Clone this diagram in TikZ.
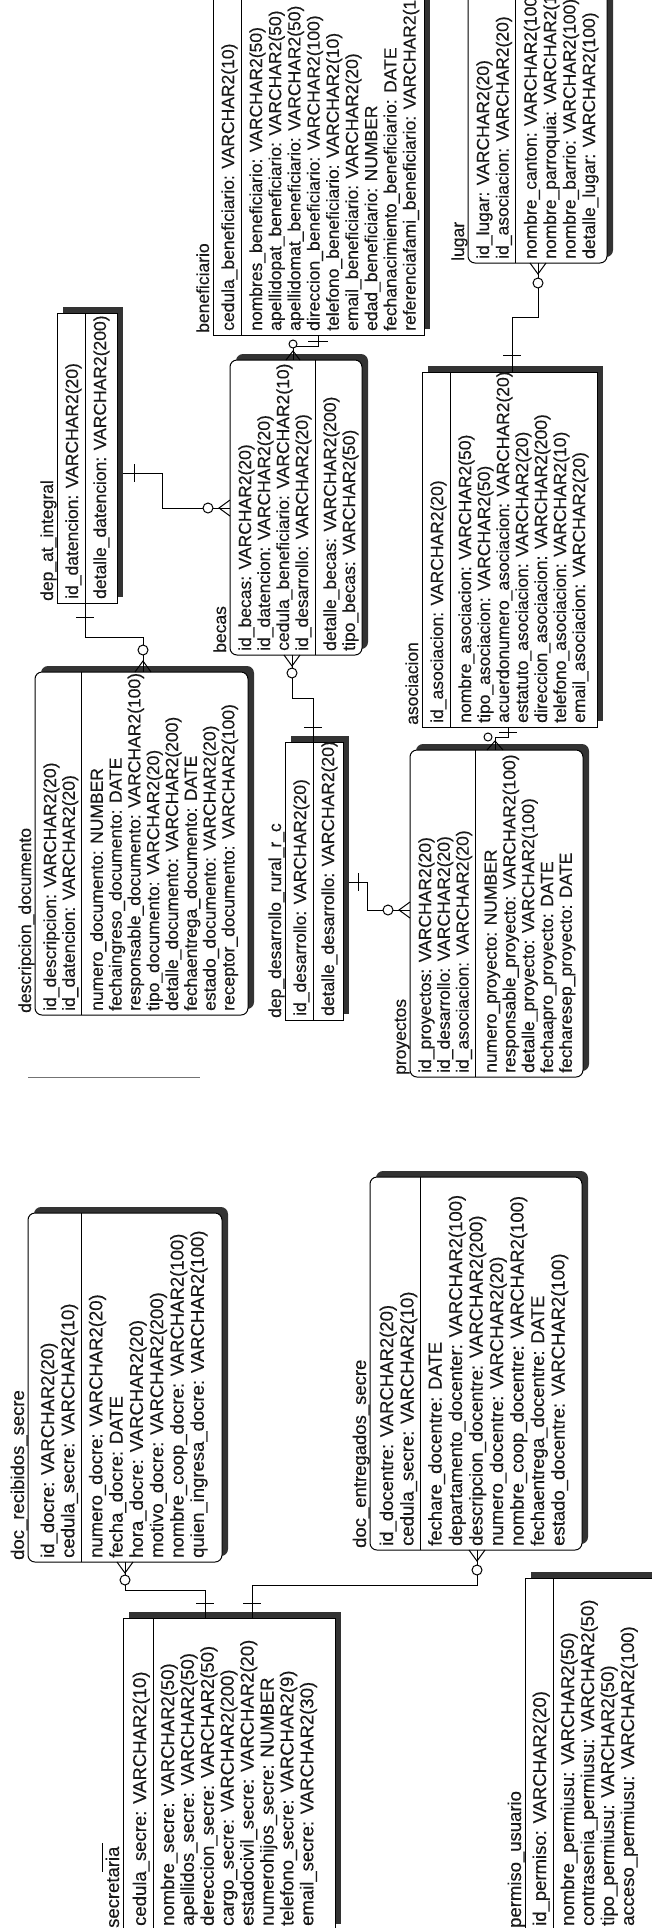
\documentclass[tikz,border=0pt]{standalone}
\usepackage{fontspec}
\setmainfont{Liberation Sans}[FakeBold=0.3]
\newcommand\eFS{17.5}
\newcommand\entfont{\fontsize{\eFS}{19}\selectfont}
\tikzset{
  boxl/.style={draw=black, line width=1pt},
  shadowc/.style={fill=black!80},
  conn/.style={draw=black, line width=1pt},
  txt/.style={anchor=base west, inner sep=0pt, font=\entfont, text=black!90},
  ttl/.style={anchor=base west, inner sep=0pt, font=\entfont, text=black!90},
  rnd/.style={rounded corners=7pt},
  sq/.style={sharp corners},
}
\newcommand\eS{19}\newcommand\eF{21}\newcommand\eN{1}
% #1 id, #2 X, #3 Ybot, #4 W, #5 H, #6 corner style, #7 title, #8 PK lines, #9 attribute lines
\newcommand\entity[9]{%
  \pgfmathsetmacro\eSep{\eF+(\eN-1)*\eS+7}%
  \pgfmathsetmacro\eA{\eSep+21}%
  \begin{scope}[shift={(#2,-#3)}, rotate=90, transform shape]
    \fill[shadowc, #6] (6,-6) rectangle ++(#4,-#5);
    \draw[boxl, fill=white, #6] (0,0) rectangle (#4,-#5);
    \draw[boxl] (0,-\eSep) -- (#4,-\eSep);
    \node[ttl] (#1) at (2,4) {#7};
    \foreach \t [count=\i from 0] in {#8} {\node[txt] (#1-k\i) at (4,{-(\eF+\i*\eS)}) {\t};}
    \foreach \t [count=\i from 0] in {#9} {\node[txt] (#1-a\i) at (4,{-(\eA+\i*\eS)}) {\t};}
  \end{scope}}
\begin{document}
\begin{tikzpicture}[x=1pt,y=1pt]
\useasboundingbox (0,0) rectangle (652,-1928);
\clip (0,0) rectangle (652,-1928);
\fill[white] (0,0) rectangle (652,-1928);

% ---------------- entities ----------------
\renewcommand\eS{19.2}\renewcommand\eF{21}\renewcommand\eN{1}
\entity{benef}{213}{335}{375}{211}{sq}{beneficiario}{cedula\_beneficiario: VARCHAR2(10)}{nombres\_beneficiario: VARCHAR2(50), apellidopat\_beneficiario: VARCHAR2(50), apellidomat\_beneficiario: VARCHAR2(50), direccion\_beneficiario: VARCHAR2(100), telefono\_beneficiario: VARCHAR2(10), email\_beneficiario: VARCHAR2(20), edad\_beneficiario: NUMBER, fechanacimiento\_beneficiario: DATE, referenciafami\_beneficiario: VARCHAR2(100)}

\renewcommand\eS{19.5}\renewcommand\eF{21}\renewcommand\eN{2}
\entity{lugar}{468}{263}{290}{139}{rnd}{lugar}{id\_lugar: VARCHAR2(20), id\_asociacion: VARCHAR2(20)}{nombre\_canton: VARCHAR2(100), nombre\_parroquia: VARCHAR2(100), nombre\_barrio: VARCHAR2(100), detalle\_lugar: VARCHAR2(100)}

\renewcommand\eS{19}\renewcommand\eF{21}\renewcommand\eN{1}
\entity{datint}{57}{603}{290}{60}{sq}{dep\_at\_integral}{id\_datencion: VARCHAR2(20)}{detalle\_datencion: VARCHAR2(200)}

\renewcommand\eS{19}\renewcommand\eF{21}\renewcommand\eN{4}
\entity{becas}{230}{655}{295}{132}{rnd}{becas}{id\_becas: VARCHAR2(20), id\_datencion: VARCHAR2(20), cedula\_beneficiario: VARCHAR2(10), id\_desarrollo: VARCHAR2(20)}{detalle\_becas: VARCHAR2(200), tipo\_becas: VARCHAR2(50)}

\renewcommand\eS{18.8}\renewcommand\eF{21}\renewcommand\eN{2}
\entity{descr}{35}{1015}{343}{213}{rnd}{descripcion\_documento}{id\_descripcion: VARCHAR2(20), id\_datencion: VARCHAR2(20)}{numero\_documento: NUMBER, fechaingreso\_documento: DATE, responsable\_documento: VARCHAR2(100), tipo\_documento: VARCHAR2(20), detalle\_documento: VARCHAR2(200), fechaentrega\_documento: DATE, estado\_documento: VARCHAR2(20), receptor\_documento: VARCHAR2(100)}

\renewcommand\eS{19}\renewcommand\eF{21}\renewcommand\eN{1}
\entity{depdes}{285}{1020}{278}{58}{sq}{dep\_desarrollo\_rural\_r\_c}{id\_desarrollo: VARCHAR2(20)}{detalle\_desarrollo: VARCHAR2(20)}

\renewcommand\eS{19}\renewcommand\eF{21}\renewcommand\eN{1}
\entity{asoc}{422}{727}{355}{175}{sq}{asociacion}{id\_asociacion: VARCHAR2(20)}{nombre\_asociacion: VARCHAR2(50), tipo\_asociacion: VARCHAR2(50), acuerdonumero\_asociacion: VARCHAR2(20), estatuto\_asociacion: VARCHAR2(20), direccion\_asociacion: VARCHAR2(200), telefono\_asociacion: VARCHAR2(10), email\_asociacion: VARCHAR2(20)}

\renewcommand\eS{18.8}\renewcommand\eF{21}\renewcommand\eN{3}
\entity{proy}{410}{1077}{327}{173}{rnd}{proyectos}{id\_proyectos: VARCHAR2(20), id\_desarrollo: VARCHAR2(20), id\_asociacion: VARCHAR2(20)}{numero\_proyecto: NUMBER, responsable\_proyecto: VARCHAR2(100), detalle\_proyecto: VARCHAR2(100), fechaapro\_proyecto: DATE, fecharesep\_proyecto: DATE}

\renewcommand\eFS{18.5}
\renewcommand\eS{20.3}\renewcommand\eF{26}\renewcommand\eN{2}
\entity{docre}{28}{1562}{349}{194}{rnd}{doc\_recibidos\_secre}{id\_docre: VARCHAR2(20), cedula\_secre: VARCHAR2(10)}{numero\_docre: VARCHAR2(20), fecha\_docre: DATE, hora\_docre: VARCHAR2(20), motivo\_docre: VARCHAR2(200), nombre\_coop\_docre: VARCHAR2(100), quien\_ingresa\_docre: VARCHAR2(100)}

\renewcommand\eS{20.5}\renewcommand\eF{23}\renewcommand\eN{2}
\entity{docen}{370}{1550}{373}{212}{rnd}{doc\_entregados\_secre}{id\_docentre: VARCHAR2(20), cedula\_secre: VARCHAR2(10)}{fechare\_docentre: DATE, departamento\_docenter: VARCHAR2(100), descripcion\_docentre: VARCHAR2(200), numero\_docentre: VARCHAR2(20), nombre\_coop\_docentre: VARCHAR2(100), fechaentrega\_docentre: DATE, estado\_docentre: VARCHAR2(100)}

\renewcommand\eS{19.9}\renewcommand\eF{23}\renewcommand\eN{1}
\entity{secre}{123}{1930}{312}{212}{sq}{secretaria}{cedula\_secre: VARCHAR2(10)}{nombre\_secre: VARCHAR2(50), apellidos\_secre: VARCHAR2(50), dereccion\_secre: VARCHAR2(50), cargo\_secre: VARCHAR2(200), estadocivil\_secre: VARCHAR2(20), numerohijos\_secre: NUMBER, telefono\_secre: VARCHAR2(9), email\_secre: VARCHAR2(30)}
\draw[black, line width=0.8pt] (102,-1843) -- (102,-1872);

\renewcommand\eS{20}\renewcommand\eF{21}\renewcommand\eN{1}
\entity{perm}{525}{1930}{352}{140}{sq}{permiso\_usuario}{id\_permiso: VARCHAR2(20)}{nombre\_permiusu: VARCHAR2(50), contrasenia\_permiusu: VARCHAR2(50), tipo\_permiusu: VARCHAR2(50), acceso\_permiusu: VARCHAR2(100)}

% ---------------- connectors ----------------
% dep_at_integral -> descripcion_documento
\coordinate (a-s) at (85,-603); \coordinate (a-e) at (143,-672);
\draw[conn] (a-s) -- (85,-637) -- (143,-637) -- (a-e);
\draw[conn] (76,-617) -- (94,-617);
\draw[conn, fill=white] (143,-650) circle (5);
\draw[conn] (135,-672) -- (143,-661) -- (151,-672);

% dep_at_integral -> becas
\coordinate (b-s) at (123,-473); \coordinate (b-e) at (230,-508);
\draw[conn] (b-s) -- (162,-473) -- (162,-508) -- (b-e);
\draw[conn] (134,-464) -- (134,-482);
\draw[conn, fill=white] (208,-508) circle (5);
\draw[conn] (230,-500) -- (219,-508) -- (230,-516);

% beneficiario -> becas
\coordinate (c-s) at (318,-335); \coordinate (c-e) at (293,-360);
\draw[conn] (c-s) -- (318,-346) -- (293,-346) -- (c-e);
\draw[conn] (308,-341) -- (328,-341);
\draw[conn, fill=white] (293,-344) circle (4);
\draw[conn] (286,-360) -- (293,-351) -- (300,-360);

% becas -> dep_desarrollo_rural_r_c
\coordinate (d-s) at (292,-655); \coordinate (d-e) at (313,-742);
\draw[conn] (d-s) -- (292,-698) -- (313,-698) -- (d-e);
\draw[conn] (284,-655) -- (292,-666) -- (300,-655);
\draw[conn, fill=white] (292,-673) circle (5);
\draw[conn] (304,-727) -- (322,-727);

% dep_desarrollo_rural_r_c -> proyectos
\coordinate (e-s) at (349,-882); \coordinate (e-e) at (410,-910);
\draw[conn] (e-s) -- (367,-882) -- (367,-910) -- (e-e);
\draw[conn] (358,-873) -- (358,-891);
\draw[conn, fill=white] (388,-910) circle (5);
\draw[conn] (410,-902) -- (399,-910) -- (410,-918);

% asociacion -> proyectos
\coordinate (f-s) at (508,-727); \coordinate (f-e) at (495,-750);
\draw[conn] (f-s) -- (508,-737) -- (495,-737) -- (f-e);
\draw[conn] (499,-732) -- (517,-732);
\draw[conn, fill=white] (488,-737) circle (4);
\draw[conn] (487,-750) -- (495,-741) -- (503,-750);

% lugar -> asociacion
\coordinate (g-s) at (538,-263); \coordinate (g-e) at (512,-372);
\draw[conn] (g-s) -- (538,-317) -- (512,-317) -- (g-e);
\draw[conn] (530,-263) -- (538,-274) -- (546,-263);
\draw[conn, fill=white] (538,-283) circle (5);
\draw[conn] (503,-355) -- (521,-355);

% secretaria -> doc_recibidos_secre
\coordinate (h-s) at (205,-1618); \coordinate (h-e) at (125,-1562);
\draw[conn] (h-s) -- (205,-1590) -- (125,-1590) -- (h-e);
\draw[conn] (196,-1603) -- (214,-1603);
\draw[conn, fill=white] (125,-1580) circle (5);
\draw[conn] (117,-1562) -- (125,-1573) -- (133,-1562);

% secretaria -> doc_entregados_secre
\coordinate (i-s) at (252,-1618); \coordinate (i-e) at (477,-1550);
\draw[conn] (i-s) -- (252,-1585) -- (477,-1585) -- (i-e);
\draw[conn] (243,-1603) -- (261,-1603);
\draw[conn, fill=white] (477,-1570) circle (5);
\draw[conn] (469,-1550) -- (477,-1561) -- (485,-1550);

% stray line
\draw[black!55, line width=0.6pt] (28,-1077) -- (200,-1077);
\end{tikzpicture}
\end{document}
